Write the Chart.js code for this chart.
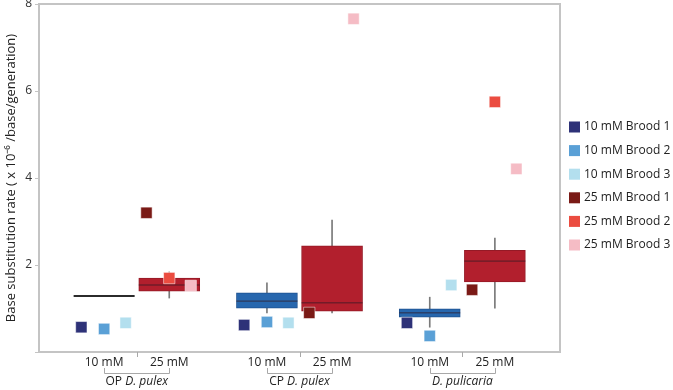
<!DOCTYPE html>
<html>
<head>
<meta charset="utf-8">
<script src="https://cdn.jsdelivr.net/npm/chart.js@4.4.1/dist/chart.umd.min.js"></script>
<style>
  html, body { margin: 0; padding: 0; background: #fff; }
  #wrap { width: 673px; height: 390px; }
</style>
</head>
<body>
<div id="wrap"><canvas id="chart"></canvas></div>
<script>
// category positions on the x axis (10 mM / 25 mM for each population)
const catPos = [1, 2, 3.5, 4.5, 6, 7];
const catLabels = ['10 mM', '25 mM', '10 mM', '25 mM', '10 mM', '25 mM'];
const groupPos = [1.5, 4, 6.5];
const groupPrefix = ['OP ', 'CP ', ''];
const groupSpecies = ['D. pulex', 'D. pulex', 'D. pulicaria'];

// box plot summaries per category
const boxLow = [null, 1.40, 1.01, 0.94, 0.80, 1.61];
const boxHigh = [null, 1.70, 1.36, 2.44, 0.99, 2.34];
const medians = [1.29, 1.54, 1.17, 1.13, 0.90, 2.09];
const whiskLow = [null, 1.24, 0.90, 0.90, 0.57, 1.01];
const whiskHigh = [null, 1.84, 1.59, 3.03, 1.26, 2.62];

// brood values (OP, CP, D. pulicaria)
const pos10 = [1, 3.5, 6];
const pos25 = [2, 4.5, 7];
const brood10_1 = [0.57, 0.62, 0.67];
const brood10_2 = [0.53, 0.69, 0.37];
const brood10_3 = [0.67, 0.67, 1.54];
const brood25_1 = [3.20, 0.90, 1.43];
const brood25_2 = [1.70, null, 5.75];
const brood25_3 = [1.52, 7.66, 4.21];
const broodOffset = [-0.35, 0, 0.33];

const broodColors = ['#2E3278', '#5AA0D6', '#B3DFEE', '#7A1A16', '#EB4C40', '#F5BCC5'];
const broodNames = ['10 mM Brood 1', '10 mM Brood 2', '10 mM Brood 3',
                    '25 mM Brood 1', '25 mM Brood 2', '25 mM Brood 3'];

const FONT = "'Open Sans', sans-serif";

function broodPoints(xs, vals, k) {
    return xs.map((x, i) => ({ x: x + broodOffset[k], y: vals[i] }))
             .filter(p => p.y !== null);
}

const broodSets = [
    broodPoints(pos10, brood10_1, 0), broodPoints(pos10, brood10_2, 1), broodPoints(pos10, brood10_3, 2),
    broodPoints(pos25, brood25_1, 0), broodPoints(pos25, brood25_2, 1), broodPoints(pos25, brood25_3, 2)
].map((pts, i) => ({
    type: 'scatter',
    label: broodNames[i],
    data: pts,
    backgroundColor: broodColors[i],
    borderColor: 'rgba(255,255,255,0.5)',
    borderWidth: 1,
    pointStyle: 'rect',
    pointRadius: 8,
    pointHoverRadius: 8,
    order: 0
}));

const isBlue = i => i % 2 === 0;

const datasets = [
    {
        type: 'bar',
        label: 'whisker',
        data: catPos.map((x, i) => ({ x: x, y: whiskLow[i] === null ? null : [whiskLow[i], whiskHigh[i]] })),
        backgroundColor: '#7A7A7A',
        barThickness: 1,
        grouped: false,
        order: 5
    },
    {
        type: 'bar',
        label: 'box',
        data: catPos.map((x, i) => ({ x: x, y: boxLow[i] === null ? null : [boxLow[i], boxHigh[i]] })),
        backgroundColor: catPos.map((x, i) => isBlue(i) ? '#2767AE' : '#B21F2D'),
        borderColor: catPos.map((x, i) => isBlue(i) ? '#1F5290' : '#951A26'),
        borderWidth: 1,
        borderSkipped: false,
        barThickness: 61,
        grouped: false,
        order: 4
    },
    {
        type: 'scatter',
        label: 'median',
        data: catPos.map((x, i) => ({ x: x, y: medians[i] })),
        pointStyle: 'line',
        pointRadius: 30.5,
        pointHoverRadius: 30.5,
        borderColor: catPos.map((x, i) => i === 0 ? '#2B2B2B' : 'rgba(50,25,35,0.75)'),
        pointBorderWidth: catPos.map((x, i) => i === 0 ? 2 : 1),
        order: 3
    },
    ...broodSets
];

const decorPlugin = {
    id: 'decor',
    afterDraw(chart) {
        const { ctx, chartArea: a, scales: { x } } = chart;
        ctx.save();
        // frame top and right
        ctx.strokeStyle = '#C4C4C4';
        ctx.lineWidth = 2;
        ctx.beginPath();
        ctx.moveTo(a.left, a.top);
        ctx.lineTo(a.right, a.top);
        ctx.lineTo(a.right, a.bottom);
        ctx.stroke();

        ctx.lineWidth = 1;
        ctx.strokeStyle = '#A8A8A8';
        groupPos.forEach((g, i) => {
            const gx = Math.round(x.getPixelForValue(g)) + 0.5;
            ctx.beginPath();
            ctx.moveTo(gx, a.bottom);
            ctx.lineTo(gx, a.bottom + 5);
            ctx.stroke();

            // bracket under the two concentrations
            const x1 = Math.round(x.getPixelForValue(catPos[i * 2])) + 0.5;
            const x2 = Math.round(x.getPixelForValue(catPos[i * 2 + 1])) + 0.5;
            ctx.beginPath();
            ctx.moveTo(x1, a.bottom + 16);
            ctx.lineTo(x1, a.bottom + 21.5);
            ctx.lineTo(x2, a.bottom + 21.5);
            ctx.lineTo(x2, a.bottom + 16);
            ctx.stroke();

            // group label, species in italics
            const normal = "12px " + FONT;
            const italic = "italic 12px " + FONT;
            ctx.font = normal;
            const w1 = ctx.measureText(groupPrefix[i]).width;
            ctx.font = italic;
            const w2 = ctx.measureText(groupSpecies[i]).width;
            let tx = x.getPixelForValue(g) - (w1 + w2) / 2;
            const ty = a.bottom + 30;
            ctx.fillStyle = '#222';
            ctx.textBaseline = 'middle';
            ctx.textAlign = 'left';
            ctx.font = normal;
            ctx.fillText(groupPrefix[i], tx, ty);
            ctx.font = italic;
            ctx.fillText(groupSpecies[i], tx + w1, ty);
        });

        // legend for the brood series, to the right of the plot
        ctx.font = "12px " + FONT;
        ctx.textBaseline = 'middle';
        broodNames.forEach((name, i) => {
            const ly = 127 + i * 23.6;
            const lx = a.right + 9;
            ctx.fillStyle = broodColors[i];
            ctx.fillRect(lx, ly - 5.5, 11, 11);
            ctx.fillStyle = '#222';
            ctx.fillText(name, lx + 15, ly);
        });
        ctx.restore();
    }
};

new Chart(document.getElementById('chart'), {
    data: { datasets: datasets },
    options: {
        responsive: true,
        maintainAspectRatio: false,
        animation: false,
        layout: { autoPadding: false, padding: { top: 4, right: 113, bottom: 0, left: 3 } },
        plugins: {
            tooltip: { enabled: false },
            legend: { display: false }
        },
        scales: {
            x: {
                type: 'linear',
                min: 0,
                max: 8,
                offset: false,
                afterBuildTicks: s => { s.ticks = catPos.map(v => ({ value: v })); },
                afterFit: s => { s.height = 38; },
                ticks: {
                    autoSkip: false,
                    maxRotation: 0,
                    padding: 3,
                    color: '#222',
                    font: { family: FONT, size: 12 },
                    callback: v => catLabels[catPos.indexOf(v)]
                },
                grid: { display: false, tickLength: 0 },
                border: { color: '#C4C4C4', width: 2 }
            },
            y: {
                min: 0,
                max: 8,
                afterFit: s => { s.width = 36; s.paddingTop = 0; s.paddingBottom = 0; },
                ticks: {
                    stepSize: 2,
                    padding: 3,
                    color: '#333',
                    font: { family: FONT, size: 12 },
                    callback: v => v === 0 ? '' : v
                },
                grid: { drawOnChartArea: false, drawTicks: true, tickLength: 4, color: '#C4C4C4' },
                border: { color: '#C4C4C4', width: 2 },
                title: {
                    display: true,
                    text: 'Base substitution rate ( x 10\u207B\u2076 /base/generation)',
                    color: '#222',
                    padding: 0,
                    font: { family: FONT, size: 13 }
                }
            }
        }
    },
    plugins: [decorPlugin]
});
</script>
</body>
</html>
